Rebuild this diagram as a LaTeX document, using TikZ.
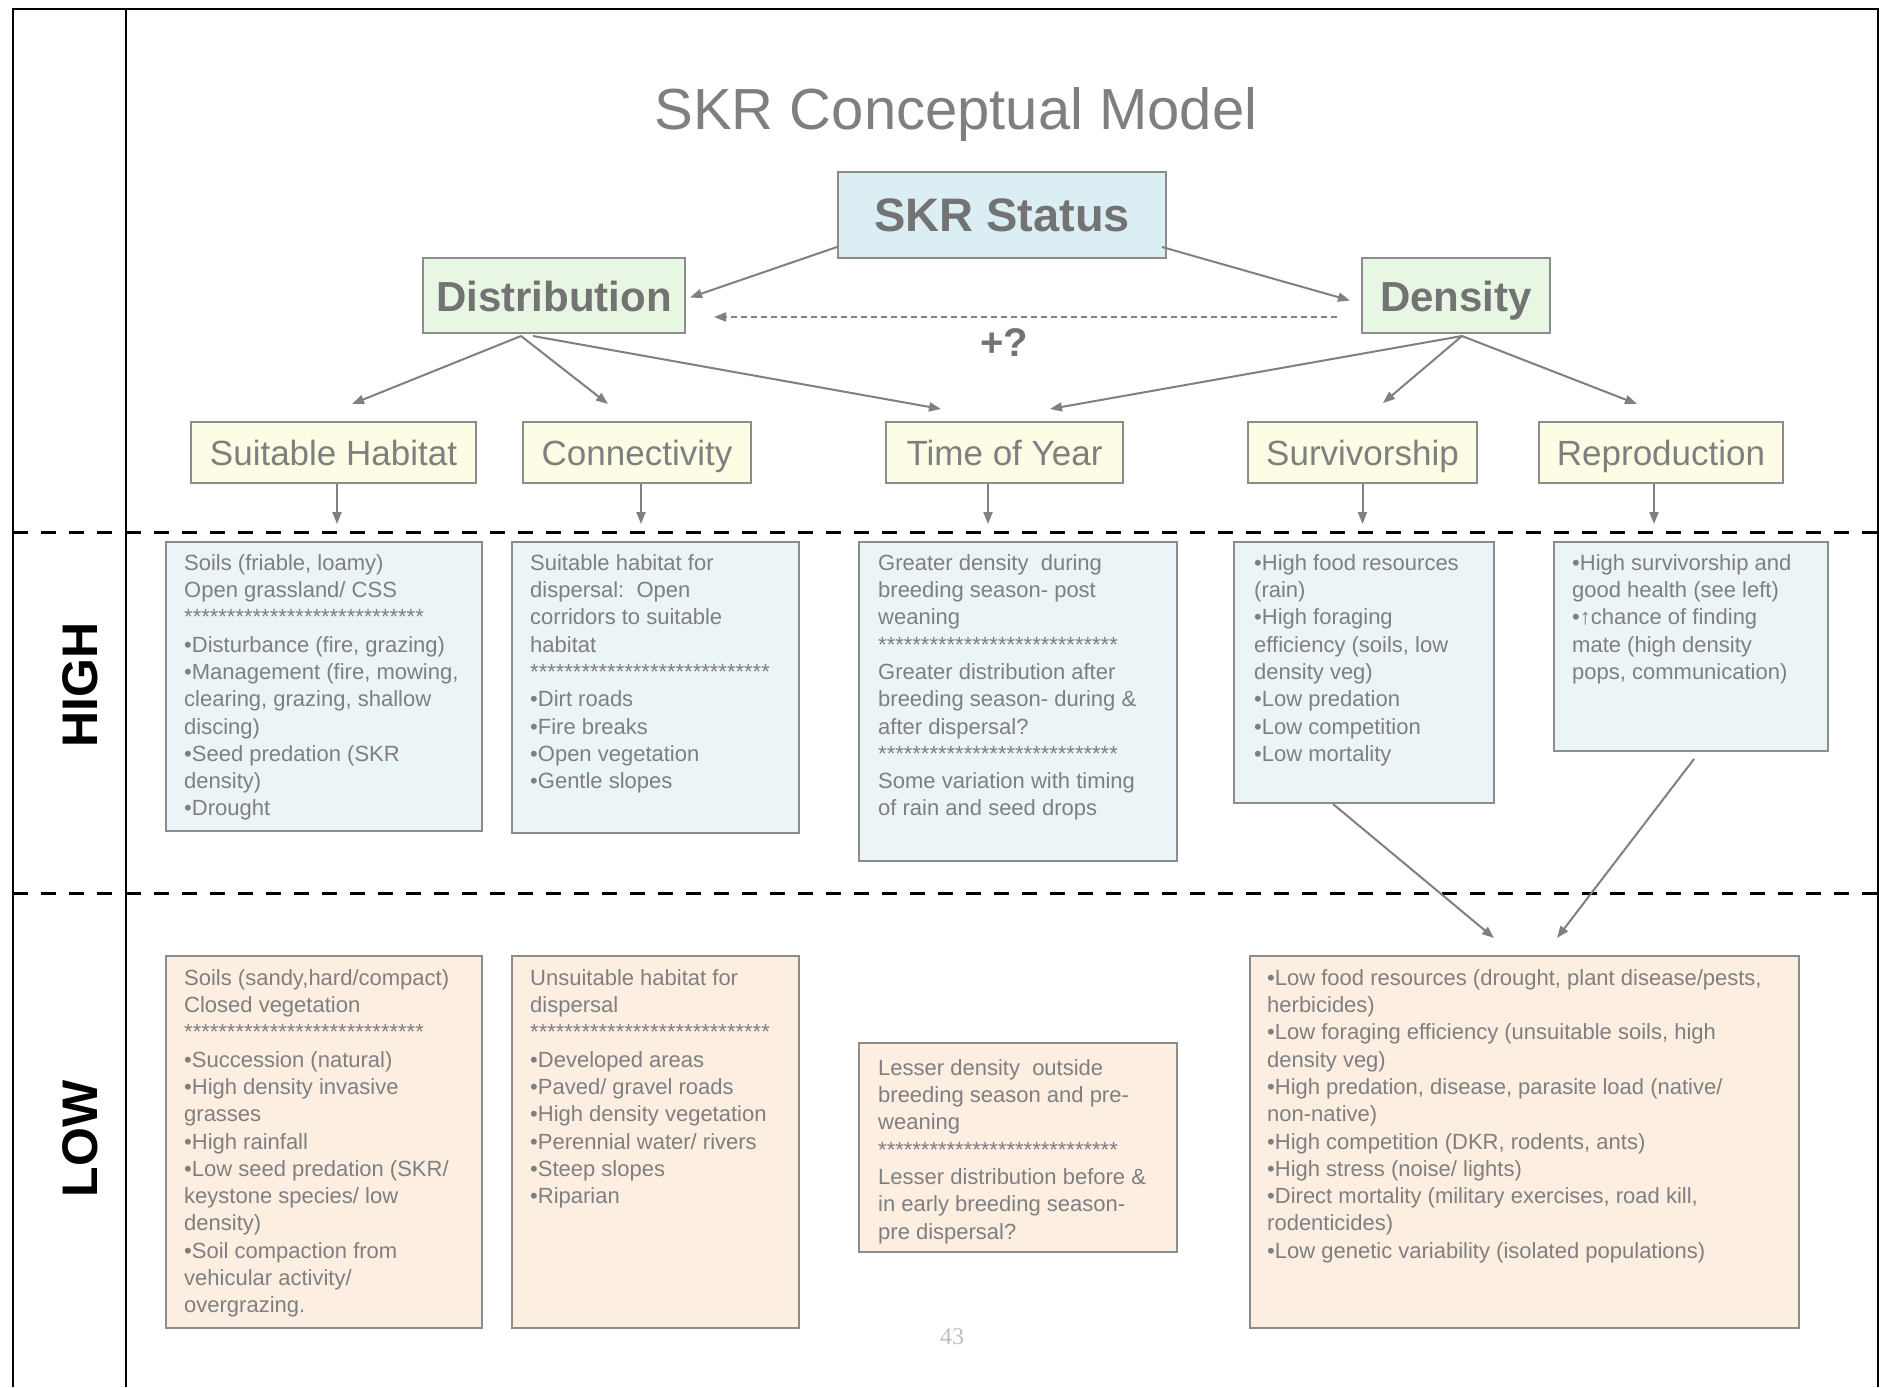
\documentclass[tikz,border=0pt]{standalone}
\usepackage{fontspec}
\setmainfont{Liberation Sans}
\newfontfamily\pagenumfont{Liberation Serif}
\usetikzlibrary{arrows.meta,calc}
\definecolor{txtgray}{HTML}{7F7F7F}
\definecolor{headgray}{HTML}{737373}
\definecolor{bordergray}{HTML}{8C8C8C}
\definecolor{arrgray}{HTML}{808080}
\definecolor{skrfill}{HTML}{DBEEF3}
\definecolor{greenfill}{HTML}{E8F6E4}
\definecolor{yelfill}{HTML}{FDFDE6}
\definecolor{highfill}{HTML}{EBF4F6}
\definecolor{lowfill}{HTML}{FDEEE2}
\definecolor{numgray}{HTML}{C0C0C0}
\newcommand{\stars}{****************************}
\begin{document}
\begin{tikzpicture}[x=1pt,y=-1pt,
  frameline/.style={line width=2.5pt,black},
  sepline/.style={line width=3pt,black,dash pattern=on 15pt off 13pt},
  rect/.style={draw=bordergray,line width=2pt,inner sep=0pt},
  topbox/.style={rect,fill=greenfill,font=\bfseries\fontsize{42}{50}\selectfont,text=headgray,text height=31pt,text depth=0pt},
  lvlbox/.style={rect,fill=yelfill,minimum height=61pt,font=\fontsize{35}{42}\selectfont,text=txtgray,text height=25.5pt,text depth=0pt},
  hbox/.style={rect,fill=highfill,anchor=north west},
  lbox/.style={rect,fill=lowfill,anchor=north west},
  btext/.style={anchor=north west,inner sep=0pt,align=left,font=\fontsize{22}{27.3}\selectfont,text=txtgray},
  sidelabel/.style={rotate=90,font=\bfseries\fontsize{50}{60}\selectfont,text=black,inner sep=0pt},
  arr/.style={draw=arrgray,line width=2pt,-{Triangle[length=12pt,width=9pt]}},
  dasharr/.style={arr,dash pattern=on 6pt off 4pt}
]
\useasboundingbox (0,0) rectangle (1885,1387);
\fill[white] (0,0) rectangle (1885,1387);

% frame
\draw[frameline] (13,1387) -- (13,9) -- (1878,9) -- (1878,1387);
\draw[frameline] (126,9) -- (126,1387);
\draw[sepline] (13,532) -- (126,532);
\draw[sepline] (126,532) -- (1878,532);
\draw[sepline] (13,893) -- (126,893);
\draw[sepline] (126,893) -- (1878,893);

\node[sidelabel] (high) at (80,685) {HIGH};
\node[sidelabel] (low) at (80,1139) {LOW};

% title
\node[anchor=base,inner sep=0pt,font=\fontsize{58}{66}\selectfont,text=txtgray] (title) at (956,129) {SKR Conceptual Model};

% top level
\node[rect,fill=skrfill,minimum width=328pt,minimum height=86pt,font=\bfseries\fontsize{47}{56}\selectfont,text=headgray] (skr) at (1002,215) {SKR Status};
\node[topbox,minimum width=262pt,minimum height=75pt] (dist) at (554,295.5) {Distribution};
\node[topbox,minimum width=188pt,minimum height=75pt] (dens) at (1456,295.5) {Density};
\node[inner sep=0pt,font=\bfseries\fontsize{40}{48}\selectfont,text=headgray] (plusq) at (1004,343) {+?};

% level 3
\node[lvlbox,minimum width=285pt] (sh) at (333.5,452.5) {Suitable Habitat};
\node[lvlbox,minimum width=228pt] (con) at (637,452.5) {Connectivity};
\node[lvlbox,minimum width=237pt] (toy) at (1004.5,452.5) {Time of Year};
\node[lvlbox,minimum width=229pt] (sur) at (1362.5,452.5) {Survivorship};
\node[lvlbox,minimum width=244pt] (rep) at (1661,452.5) {Reproduction};

% connectors top
\draw[arr] ($(skr.south west)+(0,-12)$) -- ($(dist.east)+(4,2)$);
\draw[arr] ($(skr.south east)+(-5,-12)$) -- ($(dens.west)+(-11,5)$);
\draw[dasharr] ($(dens.west)+(-24,21.5)$) -- ($(dist.east)+(28,21.5)$);
\draw[arr] ($(dist.south)+(-33,2)$) -- ($(sh.north)+(18.5,-17)$);
\draw[arr] ($(dist.south)+(-33,2)$) -- ($(con.north)+(-29,-17)$);
\draw[arr] ($(dist.south)+(-21,2)$) -- ($(toy.north)+(-63.5,-12)$);
\draw[arr] ($(dens.south)+(6,2)$) -- ($(toy.north)+(45.5,-12)$);
\draw[arr] ($(dens.south)+(6,2)$) -- ($(sur.north)+(20.5,-18)$);
\draw[arr] ($(dens.south)+(6,2)$) -- ($(rep.north)+(-24,-17)$);

% down arrows
\draw[arr] ($(sh.south)+(3.5,0)$) -- ++(0,40);
\draw[arr] ($(con.south)+(4,0)$) -- ++(0,40);
\draw[arr] ($(toy.south)+(-16.5,0)$) -- ++(0,40);
\draw[arr] ($(sur.south)+(0,0)$) -- ++(0,40);
\draw[arr] ($(rep.south)+(-7,0)$) -- ++(0,40);

% HIGH boxes
\node[hbox,minimum width=316pt,minimum height=289pt] (h1) at (165,541) {};
\node[hbox,minimum width=287pt,minimum height=291pt] (h2) at (511,541) {};
\node[hbox,minimum width=318pt,minimum height=319pt] (h3) at (858,541) {};
\node[hbox,minimum width=260pt,minimum height=261pt] (h4) at (1233,541) {};
\node[hbox,minimum width=274pt,minimum height=209pt] (h5) at (1553,541) {};

\node[btext] (h1t) at ($(h1.north west)+(19,11)$) {\rule{0pt}{18pt}Soils (friable, loamy)\\Open grassland/ CSS\\\stars\\•Disturbance (fire, grazing)\\•Management (fire, mowing,\\clearing, grazing, shallow\\discing)\\•Seed predation (SKR\\density)\\•Drought};
\node[btext] (h2t) at ($(h2.north west)+(19,11)$) {\rule{0pt}{18pt}Suitable habitat for\\dispersal:\ \ Open\\corridors to suitable\\habitat\\\stars\\•Dirt roads\\•Fire breaks\\•Open vegetation\\•Gentle slopes};
\node[btext] (h3t) at ($(h3.north west)+(20,11)$) {\rule{0pt}{18pt}Greater density\ \ during\\breeding season- post\\weaning\\\stars\\Greater distribution after\\breeding season- during \&\\after dispersal?\\\stars\\Some variation with timing\\of rain and seed drops};
\node[btext] (h4t) at ($(h4.north west)+(21,11)$) {\rule{0pt}{18pt}•High food resources\\(rain)\\•High foraging\\efficiency (soils, low\\density veg)\\•Low predation\\•Low competition\\•Low mortality};
\node[btext] (h5t) at ($(h5.north west)+(19,11)$) {\rule{0pt}{18pt}•High survivorship and\\good health (see left)\\•↑chance of finding\\mate (high density\\pops, communication)};

% LOW boxes
\node[lbox,minimum width=316pt,minimum height=372pt] (l1) at (165,955) {};
\node[lbox,minimum width=287pt,minimum height=372pt] (l2) at (511,955) {};
\node[lbox,minimum width=318pt,minimum height=209pt] (l3) at (858,1042) {};
\node[lbox,minimum width=549pt,minimum height=372pt] (l4) at (1249,955) {};

\node[btext] (l1t) at ($(l1.north west)+(19,12)$) {\rule{0pt}{18pt}Soils (sandy,hard/compact)\\Closed vegetation\\\stars\\•Succession (natural)\\•High density invasive\\grasses\\•High rainfall\\•Low seed predation (SKR/\\keystone species/ low\\density)\\•Soil compaction from\\vehicular activity/\\overgrazing.};
\node[btext] (l2t) at ($(l2.north west)+(19,12)$) {\rule{0pt}{18pt}Unsuitable habitat for\\dispersal\\\stars\\•Developed areas\\•Paved/ gravel roads\\•High density vegetation\\•Perennial water/ rivers\\•Steep slopes\\•Riparian};
\node[btext] (l3t) at ($(l3.north west)+(20,15)$) {\rule{0pt}{18pt}Lesser density\ \ outside\\breeding season and pre-\\weaning\\\stars\\Lesser distribution before \&\\in early breeding season-\\pre dispersal?};
\node[btext] (l4t) at ($(l4.north west)+(18,12)$) {\rule{0pt}{18pt}•Low food resources (drought, plant disease/pests,\\herbicides)\\•Low foraging efficiency (unsuitable soils, high\\density veg)\\•High predation, disease, parasite load (native/\\non-native)\\•High competition (DKR, rodents, ants)\\•High stress (noise/ lights)\\•Direct mortality (military exercises, road kill,\\rodenticides)\\•Low genetic variability (isolated populations)};

% HIGH to LOW connectors
\draw[arr] ($(h4.south)+(-31,0)$) -- ($(l4.north)+(-30.5,-17)$);
\draw[arr] ($(h5.south)+(3,7)$) -- ($(l4.north)+(32.5,-17)$);

% page number
\node[inner sep=0pt,font=\pagenumfont\fontsize{24}{28}\selectfont,text=numgray] (pnum) at (952,1337) {43};
\end{tikzpicture}
\end{document}
